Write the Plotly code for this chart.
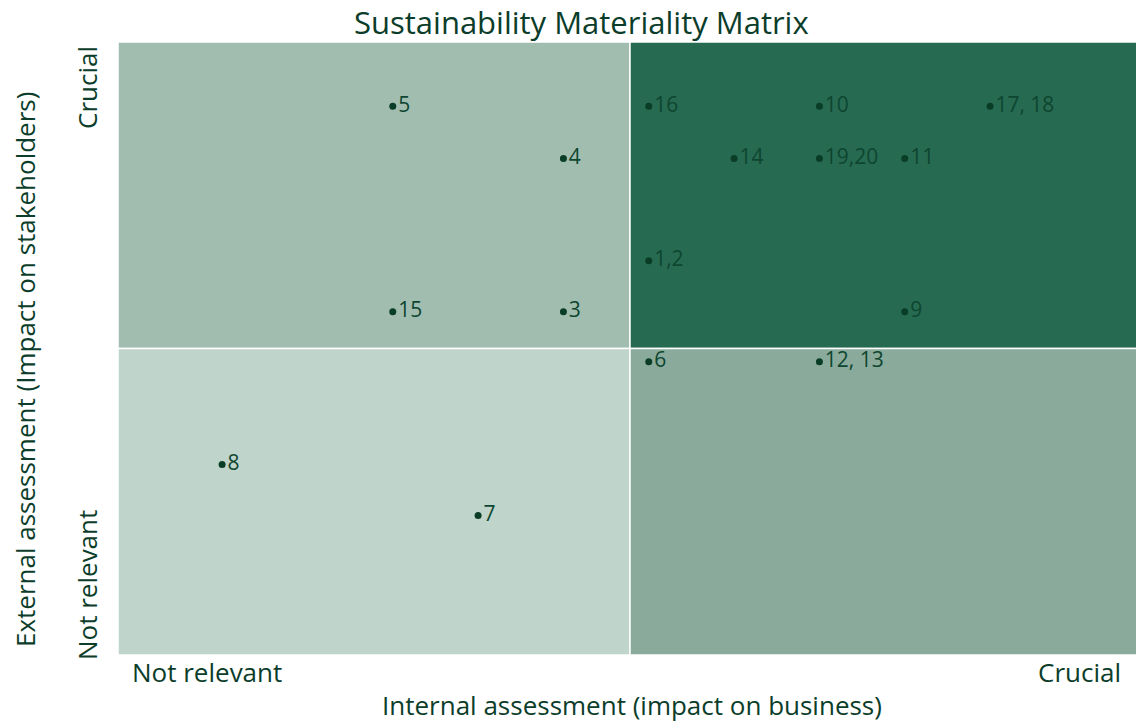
import plotly.graph_objects as go

# Data
labels = ["5", "16", "10", "17, 18", "4", "14", "19,20", "11", "1,2", "15", "3", "9", "6", "12, 13", "8", "7"]
internal = [3.22, 6.22, 8.22, 10.22, 5.22, 7.22, 8.22, 9.22, 6.22, 3.22, 5.22, 9.22, 6.22, 8.22, 1.22, 4.22]
external = [10.74, 10.74, 10.74, 10.74, 9.72, 9.72, 9.72, 9.72, 7.72, 6.72, 6.72, 6.72, 5.74, 5.74, 3.73, 2.73]

quadrants = [  # x0, x1, y0, y1, color
    (0, 6, 6, 12, "#a0bdb0"),
    (6, 12, 6, 12, "#276a52"),
    (0, 6, 0, 6, "#bfd4ca"),
    (6, 12, 0, 6, "#8aab9c"),
]

FONT = "Open Sans"
DARK = "#0b3d2a"
W, H = 1136, 722
L, R, T, B = 118, 0, 42, 67
PW, PH = W - L - R, H - T - B


def px(x):
    return (x - L) / PW


def py(y):
    return (H - B - y) / PH


fig = go.Figure()
for x0, x1, y0, y1, c in quadrants:
    fig.add_shape(type="rect", x0=x0, x1=x1, y0=y0, y1=y1, fillcolor=c,
                  line=dict(color="white", width=1.5), layer="below")

fig.add_trace(go.Scatter(
    x=internal, y=external, mode="markers+text", text=labels,
    textposition="middle right",
    marker=dict(size=7, color="#0a3d26"),
    textfont=dict(family=FONT, size=21, color="#0e4630"),
    hoverinfo="skip", showlegend=False, cliponaxis=False,
))

fig.update_layout(
    width=W, height=H,
    margin=dict(l=L, r=R, t=T, b=B, pad=0),
    paper_bgcolor="white", plot_bgcolor="white",
    xaxis=dict(range=[0, 11.93], showgrid=False, zeroline=False, showticklabels=False, fixedrange=True),
    yaxis=dict(range=[0, 12], showgrid=False, zeroline=False, showticklabels=False, fixedrange=True),
    font=dict(family=FONT, color=DARK),
)


def ann(text, x, y, size, xanchor="center", yanchor="middle", angle=0):
    fig.add_annotation(text=text, xref="paper", yref="paper", x=px(x), y=py(y),
                       xanchor=xanchor, yanchor=yanchor, textangle=angle,
                       showarrow=False, borderpad=0,
                       font=dict(family=FONT, size=size, color=DARK))


ann("Sustainability Materiality Matrix", 581, 22, 31)
ann("Not relevant", 131, 672, 26, xanchor="left")
ann("Crucial", 1122, 672, 26, xanchor="right")
ann("Internal assessment (impact on business)", 632, 705, 26)
ann("Crucial", 87, 88, 26, angle=-90)
ann("Not relevant", 87, 585, 26, angle=-90)
ann("External assessment (Impact on stakeholders)", 25, 370, 26, angle=-90)

post = ("document.body.style.margin='0';document.body.style.overflow='hidden';"
        "var gd=document.getElementById('{plot_id}');"
        "Plotly.relayout(gd,{width:%d,height:%d});" % (W, H))
fig.write_html("out.html", post_script=post, config={"displayModeBar": False})
